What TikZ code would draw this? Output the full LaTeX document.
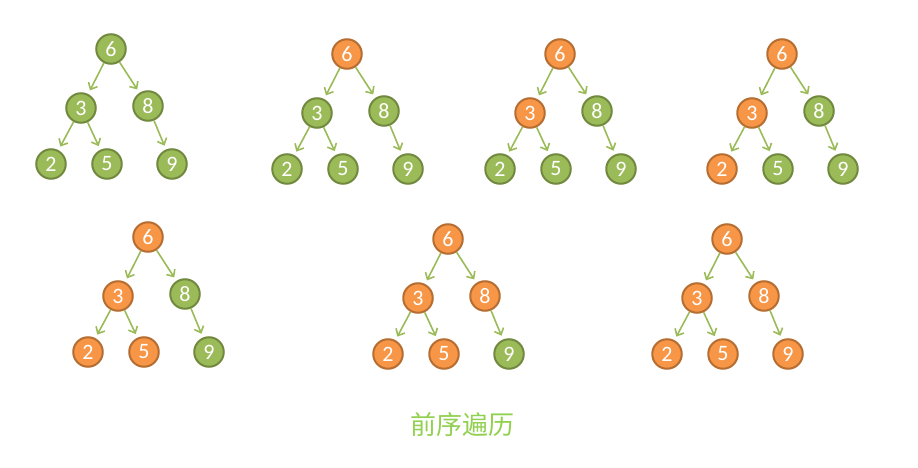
\documentclass[tikz,border=0pt]{standalone}
\usepackage{fontspec}
\newfontfamily\digitfont{Carlito}
\newfontfamily\cjk{Noto Sans CJK SC}
\usetikzlibrary{arrows.meta}
\definecolor{gfill}{HTML}{9BBB59}
\definecolor{gline}{HTML}{71893F}
\definecolor{ofill}{HTML}{F79646}
\definecolor{oline}{HTML}{B66D31}
\definecolor{arrowc}{HTML}{9BBB59}
\definecolor{titlec}{HTML}{92D050}
\tikzset{
  nd/.style={circle,draw,line width=2pt,minimum size=29.5pt,inner sep=0pt,text=white,font=\digitfont\fontsize{22}{24}\selectfont},
  gn/.style={nd,fill=gfill,draw=gline},
  on/.style={nd,fill=ofill,draw=oline},
  ar/.style={draw=arrowc,line width=1.6pt,-{Straight Barb[length=5.5pt,width=10pt]},shorten >=4pt}
}
\newcommand\bt[9]{%
  \node[#4] (#1a) at (#2,#3) {6};
  \node[#5] (#1b) at ({#2-30},{#3+59}) {3};
  \node[#6] (#1c) at ({#2+37},{#3+57}) {8};
  \node[#7] (#1d) at ({#2-60},{#3+115}) {2};
  \node[#8] (#1e) at ({#2-4},{#3+115}) {5};
  \node[#9] (#1f) at ({#2+61},{#3+115}) {9};
  \draw[ar] (#1a) -- (#1b);
  \draw[ar] (#1a) -- (#1c);
  \draw[ar] (#1b) -- (#1d);
  \draw[ar] (#1b) -- (#1e);
  \draw[ar] (#1c) -- (#1f);
}
\begin{document}
\begin{tikzpicture}[x=1pt,y=-1pt]
\useasboundingbox (0,0) rectangle (918,468);
\bt{p}{111}{49}{gn}{gn}{gn}{gn}{gn}{gn}
\bt{q}{347}{54}{on}{gn}{gn}{gn}{gn}{gn}
\bt{r}{560}{54}{on}{on}{gn}{gn}{gn}{gn}
\bt{s}{782}{54}{on}{on}{gn}{on}{gn}{gn}
\bt{t}{148}{237}{on}{on}{gn}{on}{on}{gn}
\bt{u}{448}{239}{on}{on}{on}{on}{on}{gn}
\bt{v}{727}{239}{on}{on}{on}{on}{on}{on}
\node[font=\cjk\fontsize{26}{30}\selectfont,text=titlec] (title) at (462,425) {前序遍历};
\end{tikzpicture}
\end{document}
